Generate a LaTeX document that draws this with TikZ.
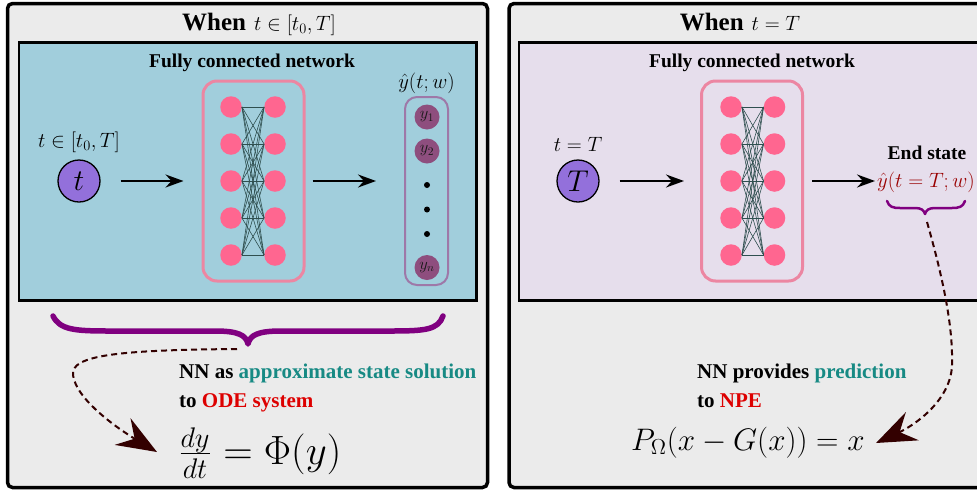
\documentclass[tikz,border=0pt]{standalone}
\usepackage[no-math]{fontspec}
\usepackage{graphicx}
\usetikzlibrary{arrows.meta,calc}
\newfontfamily\tnr{Liberation Serif}
\definecolor{panelgray}{HTML}{EBEBEB}
\definecolor{bluebg}{HTML}{A1CEDC}
\definecolor{lavbg}{HTML}{E6DEEC}
\definecolor{neuron}{HTML}{FF6690}
\definecolor{nnbox}{HTML}{EC86A2}
\definecolor{outbox}{HTML}{9E78A8}
\definecolor{outnode}{HTML}{8E4E7E}
\definecolor{tnode}{HTML}{9370DB}
\definecolor{bracecol}{HTML}{800080}
\definecolor{darrow}{HTML}{330000}
\definecolor{tealtxt}{HTML}{178A84}
\definecolor{redtxt}{HTML}{DD0000}
\definecolor{darkredtxt}{HTML}{990000}
\definecolor{edgecol}{HTML}{2F4F4F}
\tikzset{
 panel/.style={draw=black, line width=3.5pt, fill=panelgray, rounded corners=5pt},
 innerbox/.style={draw=black, line width=2.6pt},
 neuronst/.style={circle, fill=neuron, minimum size=21.5pt, inner sep=0pt},
 conn/.style={draw=edgecol, line width=0.6pt},
 nnboxst/.style={draw=nnbox, line width=3pt, rounded corners=14pt, minimum width=101pt, minimum height=200pt, inner sep=0pt},
 innode/.style={circle, draw=black, line width=1.3pt, fill=tnode, minimum size=42pt, inner sep=0pt, font=\fontsize{20}{24}\selectfont},
 outboxst/.style={draw=outbox, line width=2pt, rounded corners=12pt, minimum width=43pt, minimum height=188pt, inner sep=0pt},
 outnodest/.style={circle, fill=outnode, minimum size=25pt, inner sep=0pt, text=black!90, font=\fontsize{14.4}{16}\selectfont},
 dotst/.style={circle, fill=black, minimum size=6pt, inner sep=0pt},
 flow/.style={line width=2pt, -{Stealth[length=18pt,width=13pt,inset=6pt]}},
 bigbrace/.style={draw=bracecol, line width=5.5pt, line cap=round, line join=round},
 smallbrace/.style={draw=bracecol, line width=2.5pt, line cap=round, line join=round},
 dasharrow/.style={draw=darrow, line width=2pt, dash pattern=on 6pt off 4pt, -{Stealth[length=40pt,width=31pt,inset=14pt]}},
 mathlab/.style={font=\fontsize{20}{24}\selectfont, inner sep=0pt, anchor=base},
 boldtxt/.style={font=\fontsize{19.5}{23}\selectfont\tnr\bfseries, inner sep=0pt, anchor=base},
 captxt/.style={font=\fontsize{21}{25}\selectfont\tnr\bfseries, inner sep=0pt, anchor=base west},
 bigeq/.style={font=\fontsize{20}{24}\selectfont, inner sep=0pt, anchor=base west},
}
\begin{document}
\begin{tikzpicture}[x=1pt,y=-1pt]
\useasboundingbox (0,0) rectangle (977,491);
\clip (0,0) rectangle (977,491);
% ---------- panels ----------
\draw[panel] (7.5,3.5) rectangle (487.5,487.5);
\draw[panel] (509,3.5) rectangle (1000,487.5);
\draw[innerbox, fill=bluebg] (19,42.5) rectangle (476.5,300.5);
\draw[innerbox, fill=lavbg] (519,42.5) rectangle (1000,300.5);
% ---------- titles ----------
\node[anchor=base, inner sep=0pt] (titleL) at (259,30) {{\fontsize{25}{30}\selectfont\tnr\bfseries When}\hspace{8pt}{\fontsize{20}{24}\selectfont$t\in[t_0,T]$}};
\node[anchor=base, inner sep=0pt] (titleR) at (740,30) {{\fontsize{25}{30}\selectfont\tnr\bfseries When}\hspace{8pt}{\fontsize{20}{24}\selectfont$t=T$}};
\node[boldtxt] (fcnL) at (252,67) {Fully connected network};
\node[boldtxt] (fcnR) at (752,67) {Fully connected network};
% ---------- left network ----------
\node[innode] (tin) at (79,181) {\scalebox{1.45}{$t$}};
\node[mathlab] (tinlab) at (79,147.5) {$t\in[t_0,T]$};
\node[nnboxst] (nnL) at (253.5,181) {};
\foreach \i/\y in {1/107,2/144,3/181,4/218,5/255}{
  \node[neuronst] (La\i) at (231,\y) {};
  \node[neuronst] (Lb\i) at (275,\y) {};
}
\foreach \i in {1,...,5}{\foreach \j in {1,...,5}{\draw[conn] (La\i.east) -- (Lb\j.west);}}
\node[outboxst] (outL) at (426.5,191) {};
\node[mathlab] (outlab) at (426.5,88) {$\hat{y}(t;w)$};
\node[outnodest] (y1) at (427,117) {\scalebox{1.15}{$y_1$}};
\node[outnodest] (y2) at (427,151) {\scalebox{1.15}{$y_2$}};
\node[dotst] (d1) at (427,185) {};
\node[dotst] (d2) at (427,209.5) {};
\node[dotst] (d3) at (427,234) {};
\node[outnodest] (yn) at (427,267.5) {\scalebox{1.15}{$y_n$}};
\draw[flow, shorten <=20pt, shorten >=18pt] (tin.east) -- (nnL.west);
\draw[flow, shorten <=7pt, shorten >=28pt] (nnL.east) -- (outL.west |- nnL.east);
% big brace
\coordinate (bL) at (53,316);
\coordinate (bR) at (443,316);
\coordinate (bTip) at (248,344);
\draw[bigbrace] (bL) .. controls (60,330) and (75,331) .. (110,331) -- (215,331) .. controls (238,331) and (246,335) .. (bTip) .. controls (250,335) and (258,331) .. (281,331) -- (390,331) .. controls (425,331) and (438,330) .. (bR);
\node[captxt] (capL1) at (179,378) {NN as \textcolor{tealtxt}{approximate state solution}};
\node[captxt] (capL2) at (179,407) {to \textcolor{redtxt}{ODE system}};
\node[bigeq] (eqL) at (178,464) {\scalebox{1.97}{$\frac{dy}{dt} = \Phi(y)$}};
\coordinate (dLs) at (237,349);
\coordinate (dLe) at (157,452);
\draw[dasharrow] (dLs) .. controls (120,350) and (70,355) .. (73,375) .. controls (76,400) and (120,430) .. (dLe);
% ---------- right network ----------
\node[innode] (tR) at (578,181) {\scalebox{1.45}{$T$}};
\node[mathlab] (tRlab) at (578,151) {$t=T$};
\node[nnboxst] (nnR) at (752,181) {};
\foreach \i/\y in {1/107,2/144,3/181,4/218,5/255}{
  \node[neuronst] (Ra\i) at (731,\y) {};
  \node[neuronst] (Rb\i) at (774.5,\y) {};
}
\foreach \i in {1,...,5}{\foreach \j in {1,...,5}{\draw[conn] (Ra\i.east) -- (Rb\j.west);}}
\node[boldtxt] (endst) at (927,159) {End state};
\node[mathlab, text=darkredtxt] (yT) at (926,187) {$\hat{y}(t=T;w)$};
\draw[flow, shorten <=20pt, shorten >=16pt] (tR.east) -- (nnR.west);
\draw[flow, shorten <=8pt, shorten >=2pt] (nnR.east) -- (yT.west |- nnR.east);
\coordinate (sbL) at (887,201);
\coordinate (sbR) at (965,201);
\coordinate (sbTip) at (925,214);
\draw[smallbrace] (sbL) .. controls (889,207) and (893,208) .. (900,208) -- (915,208) .. controls (921,208) and (924,210) .. (sbTip) .. controls (926,210) and (929,208) .. (935,208) -- (952,208) .. controls (959,208) and (963,207) .. (sbR);
\node[captxt] (capR1) at (697,378) {NN provides \textcolor{tealtxt}{prediction}};
\node[captxt] (capR2) at (697,407) {to \textcolor{redtxt}{NPE}};
\node[bigeq] (eqR) at (631,450) {\scalebox{1.5}{$P_\Omega(x-G(x))=x$}};
\coordinate (dRs) at (927,222);
\coordinate (dRe) at (876,443);
\draw[dasharrow] (dRs) .. controls (945,285) and (953,330) .. (952,365) .. controls (951,400) and (915,425) .. (dRe);
\end{tikzpicture}
\end{document}
